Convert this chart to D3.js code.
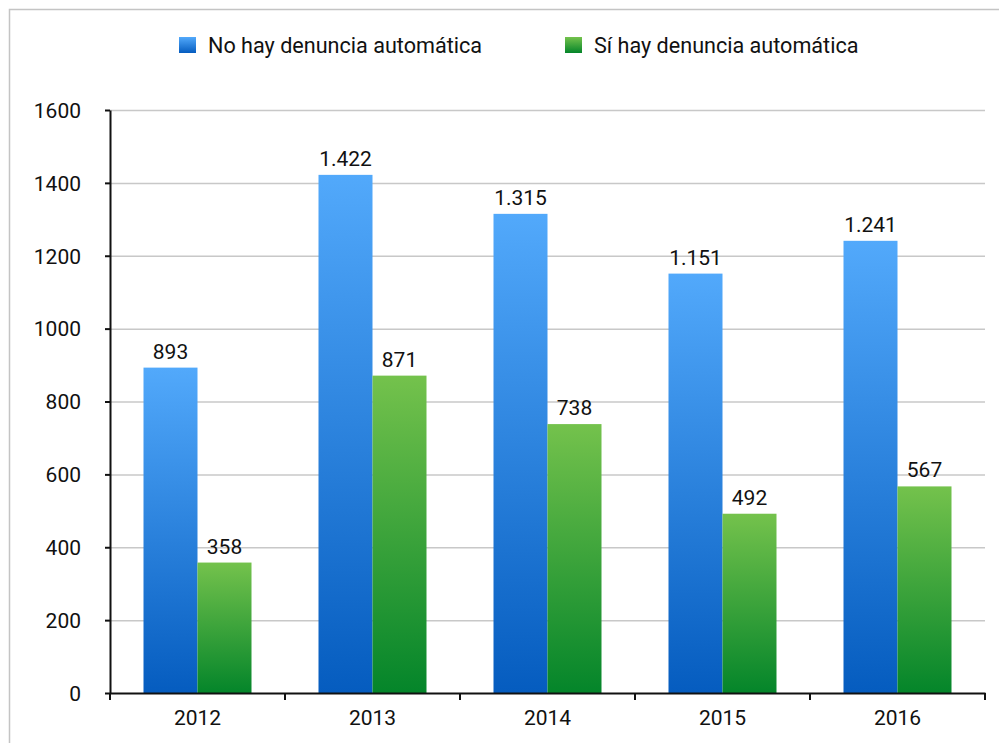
<!DOCTYPE html>
<html>
<head>
<meta charset="utf-8">
<script src="https://cdn.jsdelivr.net/npm/d3@7"></script>
<style>
  body { margin: 0; background: #fff; }
  text { font-family: Roboto, "Noto Sans", sans-serif; fill: #111; }
</style>
</head>
<body>
<div id="chart"></div>
<script>
// data
var years = ["2012", "2013", "2014", "2015", "2016"];
var seriesNames = ["No hay denuncia automática", "Sí hay denuncia automática"];
var noHay = [893, 1422, 1315, 1151, 1241];
var siHay = [358, 871, 738, 492, 567];
var yTicks = [0, 200, 400, 600, 800, 1000, 1200, 1400, 1600];

var W = 999, H = 743;
var margin = {top: 110, left: 110},
    width = 875,
    height = 583;

var svg = d3.select("#chart").append("svg")
    .attr("width", W)
    .attr("height", H);

// gradients
var defs = svg.append("defs");
function grad(id, top, bottom) {
  var g = defs.append("linearGradient").attr("id", id)
    .attr("x1", 0).attr("y1", 0).attr("x2", 0).attr("y2", 1);
  g.append("stop").attr("offset", "0%").attr("stop-color", top);
  g.append("stop").attr("offset", "100%").attr("stop-color", bottom);
}
grad("gBlue", "#52a9fb", "#055cbf");
grad("gGreen", "#74c24c", "#04852a");
var fills = ["url(#gBlue)", "url(#gGreen)"];

// outer frame
svg.append("rect")
    .attr("x", 9.5).attr("y", 9.5)
    .attr("width", W + 10).attr("height", H + 10)
    .attr("fill", "none").attr("stroke", "#c4c4c4").attr("stroke-width", 1.5);

var g = svg.append("g")
    .attr("transform", "translate(" + margin.left + "," + margin.top + ")");

var x = d3.scaleBand().domain(years).range([0, width]);
var y = d3.scaleLinear().domain([0, 1600]).range([height, 0]);
var barW = 54;

// gridlines
g.append("g").selectAll("line")
    .data(yTicks.slice(1))
    .enter().append("line")
    .attr("x1", 0).attr("x2", width)
    .attr("y1", function(d) { return y(d) + 0.5; })
    .attr("y2", function(d) { return y(d) + 0.5; })
    .attr("stroke", "#c8c8c8").attr("stroke-width", 1.5);

// bars
var rows = years.map(function(yr, i) { return {year: yr, vals: [noHay[i], siHay[i]]}; });
var grp = g.selectAll(".yr").data(rows).enter().append("g")
    .attr("transform", function(d) {
      return "translate(" + (x(d.year) + x.bandwidth() / 2 - barW) + ",0)";
    });
grp.selectAll("rect")
    .data(function(d) { return d.vals; })
    .enter().append("rect")
    .attr("x", function(d, i) { return i * barW; })
    .attr("y", function(d) { return y(d); })
    .attr("width", barW)
    .attr("height", function(d) { return y(0) - y(d); })
    .attr("fill", function(d, i) { return fills[i]; });
grp.selectAll("text")
    .data(function(d) { return d.vals; })
    .enter().append("text")
    .attr("x", function(d, i) { return i * barW + barW / 2; })
    .attr("y", function(d) { return y(d) - 9; })
    .attr("text-anchor", "middle")
    .style("font-size", "21px")
    .text(function(d) { return d3.format(",")(d).replace(",", "."); });

// y axis
var yAxis = g.append("g")
    .call(d3.axisLeft(y).tickValues(yTicks).tickSize(5).tickSizeOuter(0).tickFormat(d3.format("d")));
yAxis.select(".domain").attr("stroke", "#111").attr("stroke-width", 2);
yAxis.selectAll(".tick line").attr("stroke", "#111").attr("stroke-width", 2);
yAxis.selectAll("text").style("font-size", "21px").attr("x", -29).attr("dy", "0.35em");

// x axis
var xAxis = g.append("g")
    .attr("transform", "translate(0," + height + ")")
    .call(d3.axisBottom(x).tickSize(0));
xAxis.select(".domain").attr("stroke", "#111").attr("stroke-width", 2);
xAxis.selectAll("text").style("font-size", "21px").attr("y", 17).attr("dy", "0.71em");
xAxis.selectAll(".sep")
    .data(d3.range(years.length + 1))
    .enter().append("line")
    .attr("x1", function(i) { return i * x.bandwidth(); })
    .attr("x2", function(i) { return i * x.bandwidth(); })
    .attr("y1", 0).attr("y2", 7)
    .attr("stroke", "#111").attr("stroke-width", 2);

// legend
var legX = [179, 565];
var leg = svg.append("g").selectAll("g").data(seriesNames).enter().append("g")
    .attr("transform", function(d, i) { return "translate(" + legX[i] + ",37)"; });
leg.append("rect").attr("width", 17).attr("height", 16)
    .attr("fill", function(d, i) { return fills[i]; });
leg.append("text").attr("x", 29).attr("y", 8).attr("dy", "0.35em")
    .style("font-size", "21.6px")
    .text(function(d) { return d; });
</script>
</body>
</html>
